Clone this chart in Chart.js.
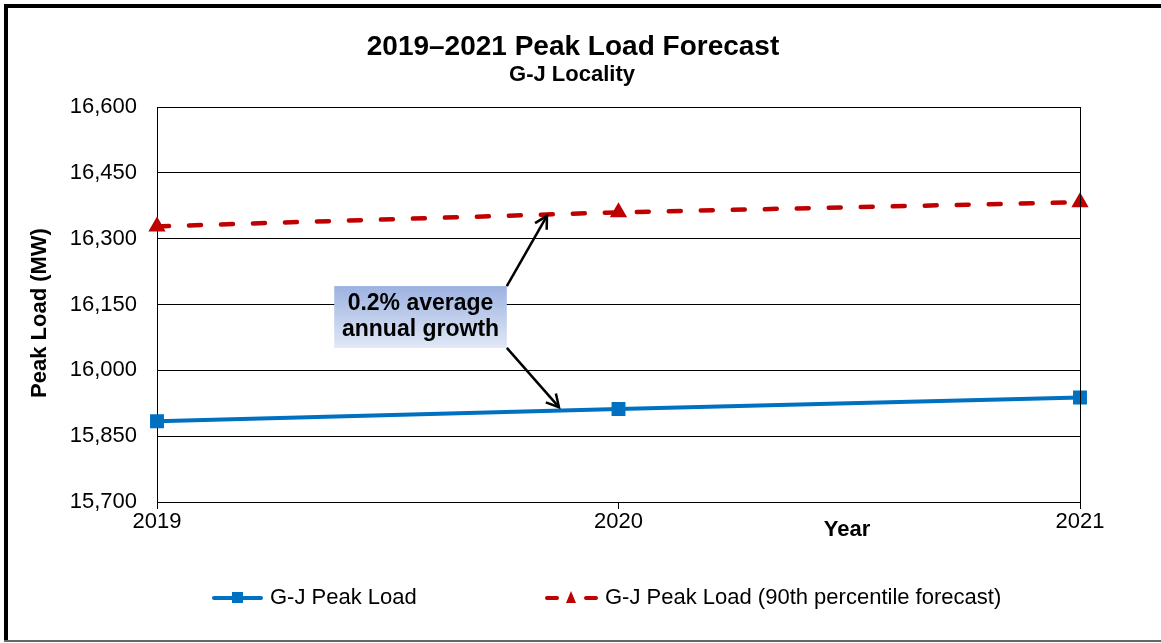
<!DOCTYPE html>
<html>
<head>
<meta charset="utf-8">
<script src="https://cdn.jsdelivr.net/npm/chart.js@4.4.1/dist/chart.umd.min.js"></script>
<style>
  html, body { margin: 0; padding: 0; background: #fff; }
  #wrap { width: 1161px; height: 643px; }
</style>
</head>
<body>
<div id="wrap"><canvas id="peakChart" width="1161" height="643"></canvas></div>
<script>
const years = ['2019', '2020', '2021'];
const peakLoad = [15884, 15912, 15938];
const peakLoad90th = [16328, 16360, 16383];
const yTicks = [15700, 15850, 16000, 16150, 16300, 16450, 16600];

const BLUE = '#0070C0';
const RED = '#C00000';
const FONT = '"Liberation Sans", Arial, sans-serif';

// frame, titles, legend, annotation box and arrows
const decorPlugin = {
  id: 'decor',
  afterDraw(chart) {
    const ctx = chart.ctx;
    const area = chart.chartArea;
    const x = chart.scales.x;
    const y = chart.scales.y;
    ctx.save();

    // outer frame
    ctx.fillStyle = '#000';
    ctx.fillRect(4, 4, 1161, 4);
    ctx.fillRect(4, 4, 4, 637);
    ctx.fillStyle = '#666';
    ctx.fillRect(4, 640, 1161, 2);

    // plot frame (right side)
    ctx.strokeStyle = '#000';
    ctx.lineWidth = 1;
    ctx.beginPath();
    ctx.moveTo(Math.round(area.right) + 0.5, area.top);
    ctx.lineTo(Math.round(area.right) + 0.5, area.bottom);
    ctx.stroke();

    // titles
    ctx.fillStyle = '#000';
    ctx.textAlign = 'center';
    ctx.textBaseline = 'middle';
    ctx.font = 'bold 28px ' + FONT;
    ctx.fillText('2019\u20132021 Peak Load Forecast', 573, 47);
    ctx.font = 'bold 22px ' + FONT;
    ctx.fillText('G-J Locality', 572, 75);

    // axis titles
    ctx.font = 'bold 22px ' + FONT;
    ctx.fillText('Year', 847, 530);
    ctx.save();
    ctx.translate(40, 313);
    ctx.rotate(-Math.PI / 2);
    ctx.fillText('Peak Load (MW)', 0, 0);
    ctx.restore();

    // annotation box
    const bx0 = x.getPixelForValue(0.384), bx1 = x.getPixelForValue(0.758);
    const by0 = y.getPixelForValue(16192), by1 = y.getPixelForValue(16051);
    const grad = ctx.createLinearGradient(0, by0, 0, by1);
    grad.addColorStop(0, '#9DB2E1');
    grad.addColorStop(1, '#E1E8F6');
    ctx.fillStyle = grad;
    ctx.fillRect(bx0, by0, bx1 - bx0, by1 - by0);
    ctx.fillStyle = '#000';
    ctx.font = 'bold 23px ' + FONT;
    const cx = (bx0 + bx1) / 2;
    ctx.fillText('0.2% average', cx, by0 + 18);
    ctx.fillText('annual growth', cx, by0 + 44);

    // arrows
    const arrow = (x0, y0, x1, y1) => {
      ctx.strokeStyle = '#000';
      ctx.lineWidth = 2.5;
      ctx.beginPath();
      ctx.moveTo(x0, y0);
      ctx.lineTo(x1, y1);
      ctx.stroke();
      const a = Math.atan2(y1 - y0, x1 - x0);
      const h = 14;
      ctx.beginPath();
      ctx.moveTo(x1 - h * Math.cos(a - 0.5), y1 - h * Math.sin(a - 0.5));
      ctx.lineTo(x1, y1);
      ctx.lineTo(x1 - h * Math.cos(a + 0.5), y1 - h * Math.sin(a + 0.5));
      ctx.stroke();
    };
    arrow(bx1, by0, x.getPixelForValue(0.845), y.getPixelForValue(16352));
    arrow(bx1, by1, x.getPixelForValue(0.871), y.getPixelForValue(15916));

    // legend
    const ly = 598;
    ctx.lineWidth = 4;
    ctx.setLineDash([]);
    ctx.lineCap = 'round';
    ctx.strokeStyle = BLUE;
    ctx.beginPath(); ctx.moveTo(214, ly); ctx.lineTo(261, ly); ctx.stroke();
    ctx.fillStyle = BLUE;
    ctx.fillRect(232, ly - 6, 11, 11);
    ctx.strokeStyle = RED;
    ctx.beginPath(); ctx.moveTo(547, ly); ctx.lineTo(557, ly); ctx.stroke();
    ctx.beginPath(); ctx.moveTo(586, ly); ctx.lineTo(596, ly); ctx.stroke();
    ctx.fillStyle = RED;
    ctx.beginPath();
    ctx.moveTo(571, ly - 7); ctx.lineTo(576, ly + 5); ctx.lineTo(566, ly + 5);
    ctx.closePath(); ctx.fill();
    ctx.fillStyle = '#000';
    ctx.textAlign = 'left';
    ctx.font = '22px ' + FONT;
    ctx.fillText('G-J Peak Load', 270, ly);
    ctx.fillText('G-J Peak Load (90th percentile forecast)', 605, ly);

    ctx.restore();
  }
};

new Chart(document.getElementById('peakChart'), {
  type: 'line',
  data: {
    labels: years,
    datasets: [
      {
        label: 'G-J Peak Load',
        data: peakLoad,
        borderColor: BLUE,
        backgroundColor: BLUE,
        borderWidth: 4,
        pointStyle: 'rect',
        pointRadius: 7,
        pointHoverRadius: 7,
        tension: 0,
      },
      {
        label: 'G-J Peak Load (90th percentile forecast)',
        data: peakLoad90th,
        borderColor: RED,
        backgroundColor: RED,
        borderWidth: 4.5,
        borderDash: [12, 20],
        borderCapStyle: 'round',
        pointStyle: 'triangle',
        pointRadius: 5.5,
        pointHoverRadius: 5.5,
        tension: 0,
      },
    ],
  },
  options: {
    responsive: false,
    animation: false,
    layout: { padding: { left: 0, right: 81, top: 107, bottom: 0 } },
    scales: {
      x: {
        offset: false,
        grid: { drawOnChartArea: false, drawTicks: true, tickLength: 7, color: '#000' },
        border: { color: '#000', width: 1 },
        ticks: { color: '#000', font: { family: FONT, size: 22 }, padding: 0, maxRotation: 0 },
        afterFit: (s) => { s.height = 141; },
      },
      y: {
        min: 15700,
        max: 16600,
        afterBuildTicks: (s) => { s.ticks = yTicks.map(v => ({ value: v })); },
        grid: { color: '#000', drawTicks: false },
        border: { color: '#000', width: 1 },
        ticks: {
          color: '#000',
          font: { family: FONT, size: 22 },
          padding: 20,
          callback: (v) => Number(v).toLocaleString('en-US'),
        },
        afterFit: (s) => { s.width = 157; },
      },
    },
    plugins: {
      legend: { display: false },
      title: { display: false },
      tooltip: { enabled: false },
    },
  },
  plugins: [decorPlugin],
});
</script>
</body>
</html>
